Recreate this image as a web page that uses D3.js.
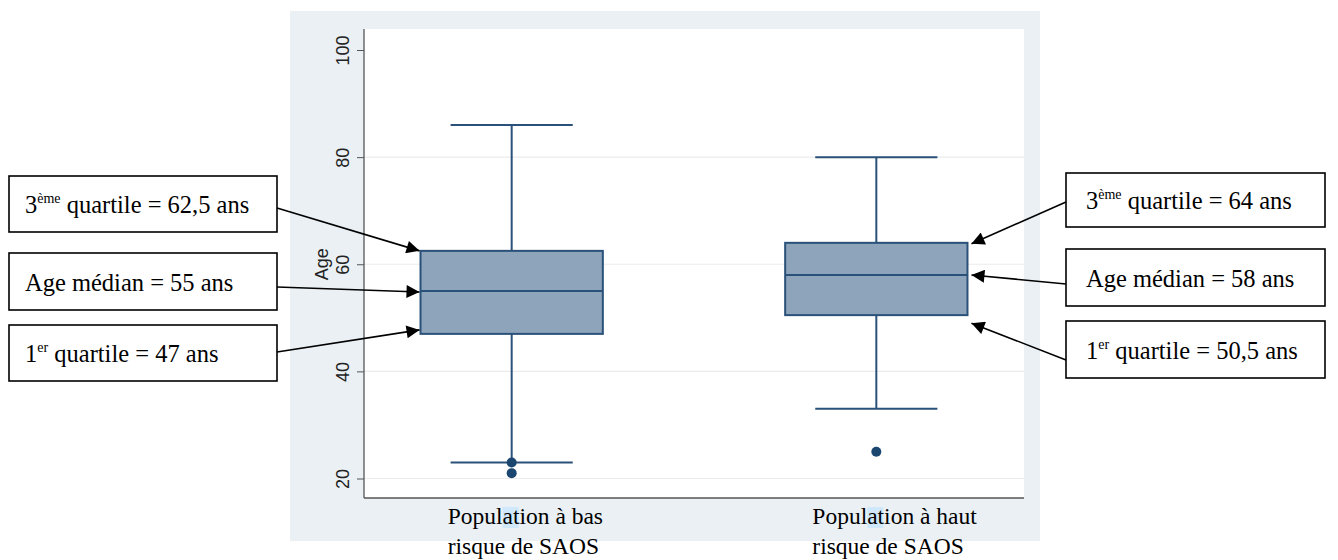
<!DOCTYPE html>
<html>
<head>
<meta charset="utf-8">
<script src="https://cdn.jsdelivr.net/npm/d3@7"></script>
<style>
  html, body { margin: 0; padding: 0; background: #fff; }
  svg { display: block; }
</style>
</head>
<body>
<svg id="chart" width="1338" height="560"></svg>
<script>
const W = 1338, H = 560;

// Données
const groups    = ['bas', 'haut'];
const labels1   = ['Population à bas', 'Population à haut'];
const labels2   = ['risque de SAOS', 'risque de SAOS'];
const q1        = [47, 50.5];
const median    = [55, 58];
const q3        = [62.5, 64];
const whiskLow  = [23, 33];
const whiskHigh = [86, 80];
const outliers  = [[23, 21], [25]];
const yTicks    = [20, 40, 60, 80, 100];

// Boîtes d'annotation : [chiffre, exposant, reste], groupe, statistique
const annLeft = [
  { txt: ['3', 'ème', ' quartile = 62,5 ans'], g: 0, stat: 'q3' },
  { txt: ['Age médian = 55 ans'],               g: 0, stat: 'med' },
  { txt: ['1', 'er', ' quartile = 47 ans'],     g: 0, stat: 'q1' },
];
const annRight = [
  { txt: ['3', 'ème', ' quartile = 64 ans'],    g: 1, stat: 'q3' },
  { txt: ['Age médian = 58 ans'],               g: 1, stat: 'med' },
  { txt: ['1', 'er', ' quartile = 50,5 ans'],   g: 1, stat: 'q1' },
];

const svg = d3.select('#chart');
const SERIF = 'Liberation Serif, Times New Roman, serif';
const SANS  = 'Liberation Sans, Arial, sans-serif';

// région graphique (fond bleu-gris type Stata)
const bg = { x0: 290, y0: 11, x1: 1040, y1: 541 };
const pl = { x0: 364, y0: 29, x1: 1024, y1: 498 };

svg.append('rect')
  .attr('x', bg.x0).attr('y', bg.y0)
  .attr('width', bg.x1 - bg.x0).attr('height', bg.y1 - bg.y0)
  .attr('fill', '#eaf0f3');
svg.append('rect')
  .attr('x', pl.x0).attr('y', pl.y0)
  .attr('width', pl.x1 - pl.x0).attr('height', pl.y1 - pl.y0)
  .attr('fill', '#ffffff');

const y = d3.scaleLinear().domain([20, 100]).range([478.5, 50]);
const x = d3.scalePoint().domain(groups).range([pl.x0, pl.x1]).padding(0.405);
const step = x.step();
const boxW = step * 0.5, capW = step * 0.335;

// grille
svg.append('g').selectAll('line')
  .data(yTicks.filter(t => t < 100))
  .join('line')
  .attr('x1', pl.x0).attr('x2', pl.x1)
  .attr('y1', d => y(d)).attr('y2', d => y(d))
  .attr('stroke', '#ebebeb').attr('stroke-width', 1.2);

// axes
const yAxis = svg.append('g')
  .attr('transform', `translate(${pl.x0},0)`)
  .call(d3.axisLeft(y).tickValues(yTicks).tickSize(7).tickFormat(d3.format('d')));
yAxis.select('.domain').attr('d', `M0,${pl.y0}V${pl.y1}`).attr('stroke', '#555').attr('stroke-width', 1.3);
yAxis.selectAll('.tick line').attr('stroke', '#555');
yAxis.selectAll('.tick text')
  .attr('font-family', SANS)
  .attr('font-size', 18).attr('fill', '#222')
  .attr('transform', 'rotate(-90)')
  .attr('x', 0).attr('y', -15).attr('dy', null)
  .attr('text-anchor', 'middle');

svg.append('line')
  .attr('x1', pl.x0).attr('x2', pl.x1)
  .attr('y1', pl.y1).attr('y2', pl.y1)
  .attr('stroke', '#555').attr('stroke-width', 1.3);

svg.append('text')
  .attr('transform', `translate(328,${y(60)}) rotate(-90)`)
  .attr('text-anchor', 'middle')
  .attr('font-family', SANS)
  .attr('font-size', 18).attr('fill', '#222')
  .text('Age');

// boîtes à moustaches
const boxStroke = '#2a5179', boxFill = '#8da4ba';
const bx = svg.append('g');
groups.forEach((g, i) => {
  const cx = x(g);
  bx.append('line').attr('x1', cx).attr('x2', cx)
    .attr('y1', y(q3[i])).attr('y2', y(whiskHigh[i]))
    .attr('stroke', boxStroke).attr('stroke-width', 2);
  bx.append('line').attr('x1', cx).attr('x2', cx)
    .attr('y1', y(q1[i])).attr('y2', y(whiskLow[i]))
    .attr('stroke', boxStroke).attr('stroke-width', 2);
  [whiskHigh[i], whiskLow[i]].forEach(v => {
    bx.append('line').attr('x1', cx - capW / 2).attr('x2', cx + capW / 2)
      .attr('y1', y(v)).attr('y2', y(v))
      .attr('stroke', boxStroke).attr('stroke-width', 2);
  });
  bx.append('rect')
    .attr('x', cx - boxW / 2).attr('y', y(q3[i]))
    .attr('width', boxW).attr('height', y(q1[i]) - y(q3[i]))
    .attr('fill', boxFill).attr('stroke', boxStroke).attr('stroke-width', 2);
  bx.append('line').attr('x1', cx - boxW / 2).attr('x2', cx + boxW / 2)
    .attr('y1', y(median[i])).attr('y2', y(median[i]))
    .attr('stroke', boxStroke).attr('stroke-width', 2);
  bx.selectAll(null).data(outliers[i]).join('circle')
    .attr('cx', cx).attr('cy', d => y(d)).attr('r', 5)
    .attr('fill', '#1a4670');
});

// étiquettes de l'axe x (avec le petit surlignage bleu sur « la »)
groups.forEach((g, i) => {
  const tx = x(g) - 64;
  svg.append('rect')
    .attr('x', tx + 55).attr('y', 507).attr('width', 16).attr('height', 21)
    .attr('fill', '#cfe8fb');
  const t = svg.append('text')
    .attr('font-family', SERIF)
    .attr('font-size', 23.5).attr('fill', '#000');
  t.append('tspan').attr('x', tx).attr('y', 524).text(labels1[i]);
  t.append('tspan').attr('x', tx).attr('y', 554).text(labels2[i]);
});

// annotations
svg.append('defs').append('marker')
  .attr('id', 'arr').attr('viewBox', '0 0 10 10')
  .attr('refX', 10).attr('refY', 5)
  .attr('markerWidth', 18).attr('markerHeight', 13)
  .attr('markerUnits', 'userSpaceOnUse')
  .attr('orient', 'auto')
  .append('path').attr('d', 'M0,0L10,5L0,10Z').attr('fill', '#000');

const statOf = { q1, med: median, q3 };
const leftBoxes  = [{ y0: 176, y1: 232 }, { y0: 253, y1: 310 }, { y0: 325, y1: 381 }];
const rightBoxes = [{ y0: 173, y1: 227 }, { y0: 249, y1: 306 }, { y0: 321, y1: 378 }];
const leftTipDy  = [0, 1, -4];
const rightTipDy = [1, 0, 8];
const leftStartY  = [208, 287, 352];
const rightStartY = [202, 284, 360];

function annBox(a, b, x0, x1, tx, tipSide, tipDy, startY) {
  svg.append('rect')
    .attr('x', x0).attr('y', b.y0).attr('width', x1 - x0).attr('height', b.y1 - b.y0)
    .attr('fill', '#fff').attr('stroke', '#000').attr('stroke-width', 1.6);
  const t = svg.append('text')
    .attr('x', tx).attr('y', (b.y0 + b.y1) / 2 + 9)
    .attr('font-family', SERIF)
    .attr('font-size', 24.5).attr('fill', '#000');
  if (a.txt.length === 1) {
    t.text(a.txt[0]);
  } else {
    t.append('tspan').text(a.txt[0]);
    t.append('tspan').attr('font-size', 14).attr('dy', -10).text(a.txt[1]);
    t.append('tspan').attr('dy', 10).text(a.txt[2]);
  }
  const cx = x(groups[a.g]);
  const tipX = tipSide < 0 ? cx - boxW / 2 - 1 : cx + boxW / 2 + 4;
  const tipY = y(statOf[a.stat][a.g]) + tipDy;
  const sx = tipSide < 0 ? x1 : x0;
  svg.append('line')
    .attr('x1', sx).attr('y1', startY)
    .attr('x2', tipX).attr('y2', tipY)
    .attr('stroke', '#000').attr('stroke-width', 1.6)
    .attr('marker-end', 'url(#arr)');
}

annLeft.forEach((a, i) => annBox(a, leftBoxes[i], 9, 277, 25, -1, leftTipDy[i], leftStartY[i]));
annRight.forEach((a, i) => annBox(a, rightBoxes[i], 1066, 1325, 1086, 1, rightTipDy[i], rightStartY[i]));
</script>
</body>
</html>
